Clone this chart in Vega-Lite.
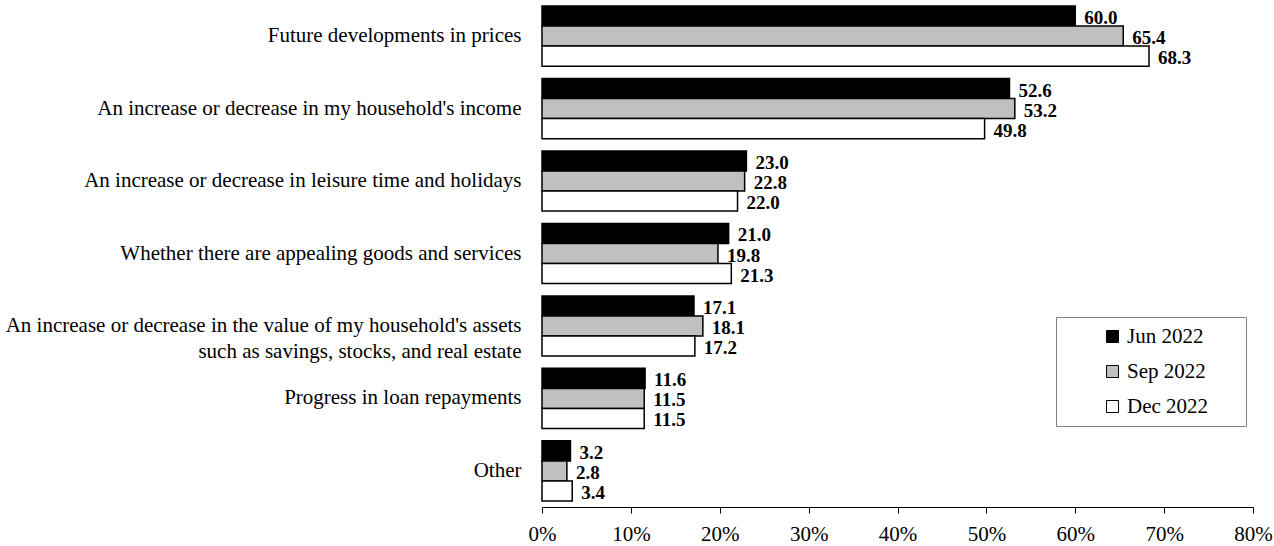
{
  "$schema": "https://vega.github.io/schema/vega-lite/v6.json",
  "autosize": {"type": "none"},
  "padding": {"left": 542, "top": 0, "right": 21, "bottom": 39},
  "width": 711,
  "height": 507,
  "background": "white",
  "config": {
    "font": "Liberation Serif",
    "view": {"stroke": null}
  },
  "data": {
    "values": [
      {"cat": "Future developments in prices", "series": "Jun 2022", "value": 60.0},
      {"cat": "Future developments in prices", "series": "Sep 2022", "value": 65.4},
      {"cat": "Future developments in prices", "series": "Dec 2022", "value": 68.3},
      {"cat": "An increase or decrease in my household's income", "series": "Jun 2022", "value": 52.6},
      {"cat": "An increase or decrease in my household's income", "series": "Sep 2022", "value": 53.2},
      {"cat": "An increase or decrease in my household's income", "series": "Dec 2022", "value": 49.8},
      {"cat": "An increase or decrease in leisure time and holidays", "series": "Jun 2022", "value": 23.0},
      {"cat": "An increase or decrease in leisure time and holidays", "series": "Sep 2022", "value": 22.8},
      {"cat": "An increase or decrease in leisure time and holidays", "series": "Dec 2022", "value": 22.0},
      {"cat": "Whether there are appealing goods and services", "series": "Jun 2022", "value": 21.0},
      {"cat": "Whether there are appealing goods and services", "series": "Sep 2022", "value": 19.8},
      {"cat": "Whether there are appealing goods and services", "series": "Dec 2022", "value": 21.3},
      {"cat": "An increase or decrease in the value of my household's assets|such as savings, stocks, and real estate", "series": "Jun 2022", "value": 17.1},
      {"cat": "An increase or decrease in the value of my household's assets|such as savings, stocks, and real estate", "series": "Sep 2022", "value": 18.1},
      {"cat": "An increase or decrease in the value of my household's assets|such as savings, stocks, and real estate", "series": "Dec 2022", "value": 17.2},
      {"cat": "Progress in loan repayments", "series": "Jun 2022", "value": 11.6},
      {"cat": "Progress in loan repayments", "series": "Sep 2022", "value": 11.5},
      {"cat": "Progress in loan repayments", "series": "Dec 2022", "value": 11.5},
      {"cat": "Other", "series": "Jun 2022", "value": 3.2},
      {"cat": "Other", "series": "Sep 2022", "value": 2.8},
      {"cat": "Other", "series": "Dec 2022", "value": 3.4}
    ]
  },
  "encoding": {
    "y": {
      "field": "cat",
      "type": "nominal",
      "sort": null,
      "scale": {"paddingInner": 0.17, "paddingOuter": 0.083},
      "axis": {
        "title": null,
        "domain": false,
        "ticks": false,
        "labelPadding": 21,
        "labelFont": "Liberation Serif",
        "labelFontSize": 21,
        "labelColor": "black",
        "labelLimit": 600,
        "labelLineHeight": 26,
        "labelExpr": "split(datum.label, '|')"
      }
    },
    "yOffset": {
      "field": "series",
      "type": "nominal",
      "sort": ["Jun 2022", "Sep 2022", "Dec 2022"],
      "scale": {"paddingInner": 0, "paddingOuter": 0}
    },
    "x": {
      "field": "value",
      "type": "quantitative",
      "scale": {"domain": [0, 80], "nice": false},
      "axis": {
        "title": null,
        "values": [0, 10, 20, 30, 40, 50, 60, 70, 80],
        "labelExpr": "datum.value + '%'",
        "grid": false,
        "domainColor": "black",
        "domainWidth": 1,
        "tickColor": "black",
        "tickSize": 6,
        "labelFont": "Liberation Serif",
        "labelFontSize": 21,
        "labelColor": "black",
        "labelPadding": 10,
        "labelFlush": false
      }
    }
  },
  "layer": [
    {
      "mark": {"type": "bar", "stroke": "black", "strokeWidth": 1.5},
      "encoding": {
        "fill": {
          "field": "series",
          "type": "nominal",
          "sort": ["Jun 2022", "Sep 2022", "Dec 2022"],
          "scale": {"domain": ["Jun 2022", "Sep 2022", "Dec 2022"], "range": ["#000000", "#c0c0c0", "#ffffff"]},
          "legend": {
            "title": "\u2800",
            "titleOrient": "right",
            "titleAngle": 0,
            "titleFontSize": 4,
            "titlePadding": 26,
            "orient": "none",
            "legendX": 514,
            "legendY": 317,
            "padding": 9,
            "symbolOffset": 37,
            "strokeColor": "#808080",
            "fillColor": "white",
            "symbolType": "square",
            "symbolSize": 144,
            "symbolStrokeColor": "black",
            "symbolStrokeWidth": 1,
            "labelFont": "Liberation Serif",
            "labelFontSize": 21,
            "labelColor": "black",
            "labelOffset": 4,
            "rowPadding": 13
          }
        }
      }
    },
    {
      "mark": {"type": "text", "align": "left", "baseline": "middle", "dx": 9, "dy": 2, "fontWeight": "bold", "fontSize": 19, "font": "Liberation Serif", "color": "black"},
      "encoding": {
        "text": {"field": "value", "type": "quantitative", "format": ".1f"}
      }
    }
  ]
}
